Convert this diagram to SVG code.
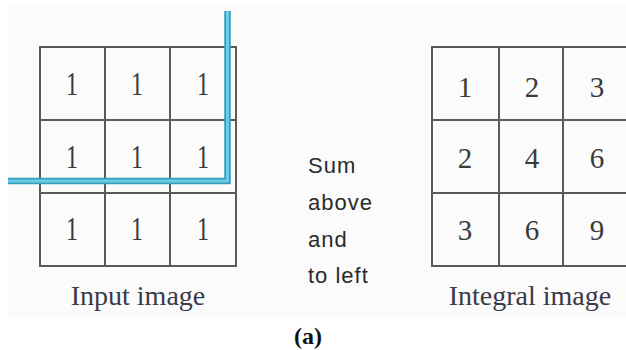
<svg xmlns="http://www.w3.org/2000/svg" width="626" height="350" viewBox="0 0 626 350">
  <style>
    .grid { fill: none; stroke: #5a5a5a; stroke-width: 2; }
    .num { font-family: "Liberation Serif", "Times New Roman", serif; fill: #3a3a3a; text-anchor: middle; }
    .in { font-size: 30px; }
    .out { font-size: 29px; }
    .cap { font-family: "Liberation Serif", "Times New Roman", serif; font-size: 28px; fill: #3a3a48; text-anchor: middle; }
    .note { font-family: "Liberation Sans", Arial, sans-serif; font-size: 22px; fill: #2a2a2a; letter-spacing: 1px; }
    .sum { fill: none; stroke-linejoin: miter; stroke-linecap: butt; }
  </style>

  <rect x="0" y="0" width="626" height="350" fill="#ffffff"/>
  <rect x="8" y="6" width="618" height="312" fill="#fbfbfb"/>

  <!-- input image: 3x3 grid of ones -->
  <g id="input-image">
    <rect class="grid" x="40" y="47" width="196" height="219"/>
    <line class="grid" x1="40" y1="47" x2="236" y2="47" stroke-width="3" stroke="#777"/>
    <line class="grid" x1="105" y1="47" x2="105" y2="266"/>
    <line class="grid" x1="170" y1="47" x2="170" y2="266"/>
    <line class="grid" x1="40" y1="120" x2="236" y2="120"/>
    <line class="grid" x1="40" y1="193" x2="236" y2="193" stroke-width="3"/>
    <g class="num in">
      <text transform="translate(72 95) scale(0.8 1.1)">1</text><text transform="translate(137 95) scale(0.8 1.1)">1</text><text transform="translate(203 95) scale(0.8 1.1)">1</text>
      <text transform="translate(72 168) scale(0.8 1.1)">1</text><text transform="translate(137 168) scale(0.8 1.1)">1</text><text transform="translate(203 168) scale(0.8 1.1)">1</text>
      <text transform="translate(72 240) scale(0.8 1.1)">1</text><text transform="translate(137 240) scale(0.8 1.1)">1</text><text transform="translate(203 240) scale(0.8 1.1)">1</text>
    </g>
    <text class="cap" x="138" y="305">Input image</text>
  </g>

  <!-- region boundary: everything above and to the left -->
  <g id="connectors">
    <path class="sum" d="M8 181 H227.5 V11" stroke="#2f9fc0" stroke-width="6.5"/>
    <path class="sum" d="M8 181 H227.5 V11" stroke="#6fcbe3" stroke-width="3"/>
  </g>

  <g id="rule">
    <text class="note" x="308" y="173">Sum</text>
    <text class="note" x="308" y="210">above</text>
    <text class="note" x="308" y="247">and</text>
    <text class="note" x="308" y="283">to left</text>
  </g>

  <!-- integral image: running sums -->
  <g id="integral-image">
    <rect class="grid" x="432" y="47" width="196" height="219"/>
    <line class="grid" x1="432" y1="47" x2="628" y2="47" stroke-width="3" stroke="#777"/>
    <line class="grid" x1="499" y1="47" x2="499" y2="266"/>
    <line class="grid" x1="563" y1="47" x2="563" y2="266" stroke-width="2.5" stroke="#444"/>
    <line class="grid" x1="432" y1="120" x2="628" y2="120"/>
    <line class="grid" x1="432" y1="193" x2="628" y2="193" stroke-width="3"/>
    <g class="num out">
      <text x="465" y="97">1</text><text x="532" y="97">2</text><text x="597" y="97">3</text>
      <text x="465" y="168">2</text><text x="532" y="168">4</text><text x="597" y="168">6</text>
      <text x="465" y="240">3</text><text x="532" y="240">6</text><text x="597" y="240">9</text>
    </g>
    <text class="cap" x="530" y="305">Integral image</text>
  </g>

  <text x="308" y="344" font-family="Liberation Serif, Times New Roman, serif" font-size="24" font-weight="bold" fill="#111" text-anchor="middle">(a)</text>
</svg>
